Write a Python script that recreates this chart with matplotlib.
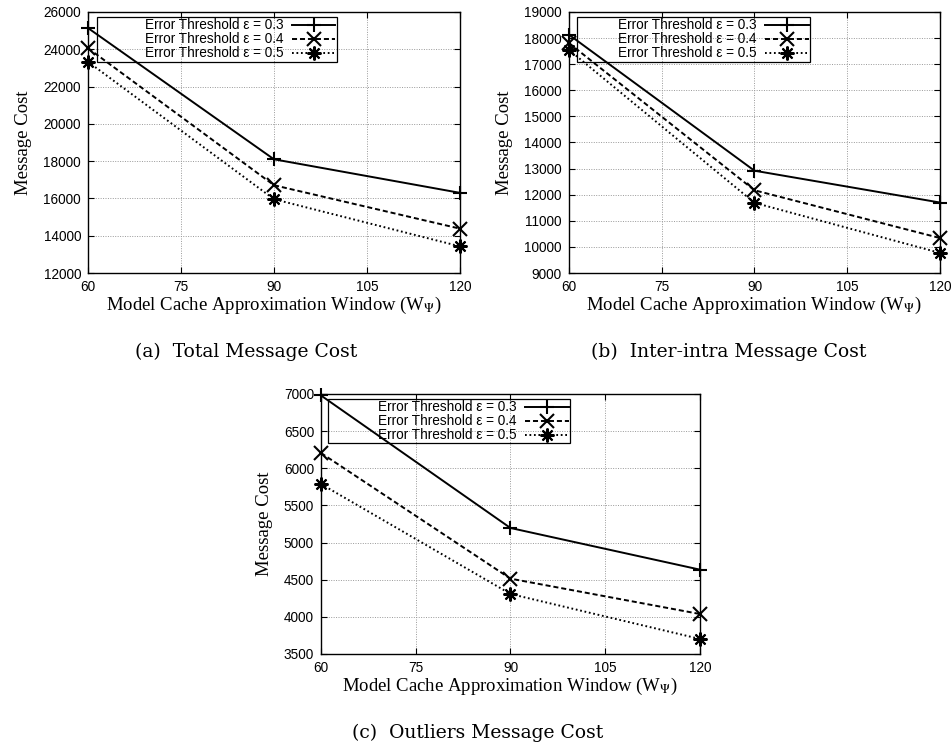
import matplotlib
matplotlib.use("Agg")
import matplotlib.pyplot as plt
from matplotlib.patches import Rectangle

# ---------------- data ----------------
windows = [60, 90, 120]
x_ticks = [60, 75, 90, 105, 120]
labels = ["Error Threshold \u03b5 = 0.3", "Error Threshold \u03b5 = 0.4", "Error Threshold \u03b5 = 0.5"]

total_e03 = [25140, 18100, 16300]
total_e04 = [24060, 16710, 14380]
total_e05 = [23330, 15960, 13430]

inter_e03 = [18130, 12920, 11700]
inter_e04 = [17810, 12170, 10340]
inter_e05 = [17550, 11690, 9770]

outl_e03 = [6980, 5196, 4635]
outl_e04 = [6206, 4514, 4038]
outl_e05 = [5788, 4308, 3702]

total_yticks = [12000, 14000, 16000, 18000, 20000, 22000, 24000, 26000]
inter_yticks = [9000, 10000, 11000, 12000, 13000, 14000, 15000, 16000, 17000, 18000, 19000]
outl_yticks = [3500, 4000, 4500, 5000, 5500, 6000, 6500, 7000]

captions = ["(a)  Total Message Cost", "(b)  Inter-intra Message Cost", "(c)  Outliers Message Cost"]

# ---------------- style ----------------
plt.rcParams["mathtext.fontset"] = "stix"
tick_font = "Liberation Sans"
label_font = "Liberation Serif"
cap_font = "DejaVu Serif"

styles = [
    dict(linestyle="-", marker="+"),
    dict(linestyle=(0, (2.6, 1.5)), marker="x"),
    dict(linestyle=(0, (0.9, 1.4)), marker=(8, 2, 0)),
]

fig = plt.figure(figsize=(9.53, 7.48), dpi=100)

panels = [
    dict(rect=[0.0923, 0.635, 0.3903, 0.349], series=[total_e03, total_e04, total_e05],
         yticks=total_yticks, box=(0.024, 0.808, 0.669, 0.981), cap=(246, 352)),
    dict(rect=[0.597, 0.635, 0.3893, 0.349], series=[inter_e03, inter_e04, inter_e05],
         yticks=inter_yticks, box=(0.0216, 0.808, 0.6496, 0.981), cap=(729, 352)),
    dict(rect=[0.3368, 0.1257, 0.3977, 0.3476], series=[outl_e03, outl_e04, outl_e05],
         yticks=outl_yticks, box=(0.0185, 0.8115, 0.657, 0.981), cap=(478, 733)),
]

for i, p in enumerate(panels):
    ax = fig.add_axes(p["rect"])
    for ys, st, lab in zip(p["series"], styles, labels):
        ax.plot(windows, ys, color="black", lw=1.4, markersize=10, markeredgewidth=1.5,
                label=lab, clip_on=False, **st)
    ax.set_xlim(60, 120)
    ax.set_ylim(p["yticks"][0], p["yticks"][-1])
    ax.set_xticks(x_ticks)
    ax.set_yticks(p["yticks"])
    ax.grid(True, color="#999999", linestyle=(0, (1, 1.5)), linewidth=0.7)
    ax.set_axisbelow(True)
    ax.tick_params(direction="in", top=True, right=True, length=4, width=0.8,
                   labelsize=9.8, pad=5)
    for t in ax.get_xticklabels() + ax.get_yticklabels():
        t.set_fontfamily(tick_font)
    for s in ax.spines.values():
        s.set_linewidth(1.0)
    ax.set_ylabel("Message Cost", fontfamily=label_font, fontsize=13.5, labelpad=8)
    ax.set_xlabel(r"Model Cache Approximation Window (W$_{\Psi}$)", fontfamily=label_font,
                  fontsize=13.5, labelpad=1)
    x0, y0, x1, y1 = p["box"]
    ax.add_patch(Rectangle((x0, y0), x1 - x0, y1 - y0, transform=ax.transAxes,
                           fill=False, edgecolor="black", lw=0.9, zorder=1))
    leg = ax.legend(loc="upper right", bbox_to_anchor=(x1, y1), bbox_transform=ax.transAxes,
                    frameon=False, markerfirst=False, borderpad=0.1, borderaxespad=0,
                    handlelength=3.2, handletextpad=0.6, labelspacing=0.0,
                    prop=dict(family=tick_font, size=9.8))
    fig.text(p["cap"][0] / 953, 1 - p["cap"][1] / 748, captions[i], ha="center", va="center",
             fontfamily=cap_font, fontsize=13.5)

fig.savefig("out.png", dpi=100)
